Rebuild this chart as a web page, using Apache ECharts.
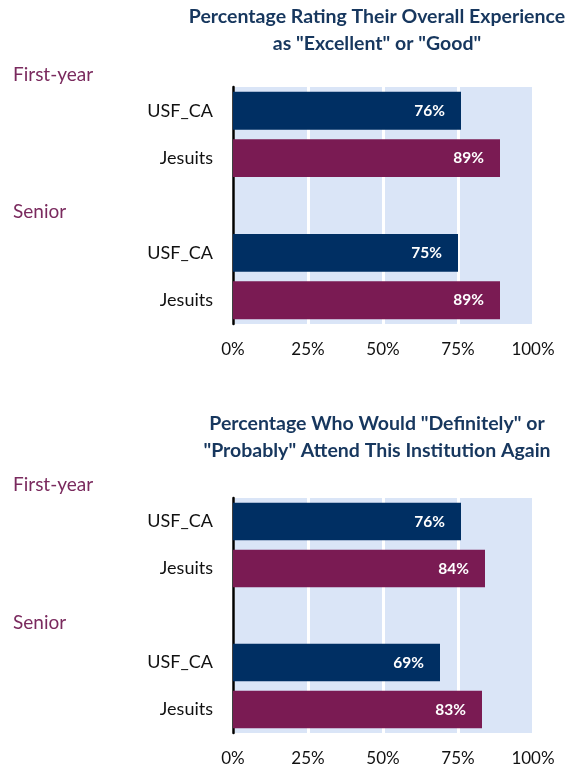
<!DOCTYPE html>
<html>
<head>
<meta charset="utf-8">
<script src="https://cdn.jsdelivr.net/npm/echarts@6/dist/echarts.min.js"></script>
<style>
  html, body { margin: 0; padding: 0; background: #fff; }
  #chart { width: 580px; height: 768px; }
</style>
</head>
<body>
<div id="chart"></div>
<script>
// data
const categories = ['USF_CA', 'Jesuits', '', 'USF_CA', 'Jesuits'];
const groupLabels = ['First-year', 'Senior'];
const topTitle = 'Percentage Rating Their Overall Experience\nas "Excellent" or "Good"';
const bottomTitle = 'Percentage Who Would "Definitely" or\n"Probably" Attend This Institution Again';
const topValues = [76, 89, null, 75, 89];
const bottomValues = [76, 84, null, 69, 83];
const xTicks = [0, 25, 50, 75, 100];

const NAVY = '#002f63';
const PURPLE = '#7a1b53';
const BG = '#dae5f7';
const FONT = 'Lato, "Open Sans", sans-serif';

function barData(vals) {
    return vals.map((v, i) => ({
        value: v,
        itemStyle: { color: categories[i] === 'Jesuits' ? PURPLE : NAVY }
    }));
}

function xAxisCfg(idx) {
    return {
        gridIndex: idx, type: 'value', min: xTicks[0], max: xTicks[xTicks.length - 1], interval: 25,
        axisLine: { show: false }, axisTick: { show: false },
        axisLabel: { formatter: '{value}%', color: '#111', fontSize: 17, fontFamily: FONT, margin: 17 },
        splitLine: { show: true, lineStyle: { color: '#fff', width: 3 } }
    };
}

function yAxisCfg(idx) {
    return {
        gridIndex: idx, type: 'category', data: categories, inverse: true,
        axisLine: { show: true, lineStyle: { color: '#000', width: 2.5 } },
        axisTick: { show: false },
        axisLabel: { color: '#111', fontSize: 18, fontFamily: FONT, margin: 20 }
    };
}

function seriesCfg(idx, vals) {
    return {
        type: 'bar', xAxisIndex: idx, yAxisIndex: idx, data: barData(vals),
        barCategoryGap: '20%',
        label: {
            show: true, position: 'insideRight', distance: 16, formatter: '{c}%',
            color: '#fff', fontWeight: 'bold', fontSize: 15.5, fontFamily: FONT
        }
    };
}

const titleStyle = { color: '#17375e', fontSize: 19.5, fontWeight: 'bold', fontFamily: FONT, lineHeight: 27 };
const groupStyle = { fill: '#7a2a5e', fontSize: 19, fontFamily: FONT };

const chart = echarts.init(document.getElementById('chart'));
chart.setOption({
    animation: false,
    title: [
        { text: topTitle, left: 377, top: 3, padding: 0, textAlign: 'center', textStyle: titleStyle },
        { text: bottomTitle, left: 377, top: 410, padding: 0, textAlign: 'center', textStyle: titleStyle }
    ],
    grid: [
        { left: 233, width: 300, top: 87, height: 237, show: true, backgroundColor: BG, borderWidth: 0 },
        { left: 233, width: 300, top: 498, height: 235, show: true, backgroundColor: BG, borderWidth: 0 }
    ],
    xAxis: [xAxisCfg(0), xAxisCfg(1)],
    yAxis: [yAxisCfg(0), yAxisCfg(1)],
    series: [seriesCfg(0, topValues), seriesCfg(1, bottomValues)],
    graphic: [
        { type: 'text', left: 13, top: 65, style: Object.assign({ text: groupLabels[0] }, groupStyle) },
        { type: 'text', left: 13, top: 202, style: Object.assign({ text: groupLabels[1] }, groupStyle) },
        { type: 'text', left: 13, top: 475, style: Object.assign({ text: groupLabels[0] }, groupStyle) },
        { type: 'text', left: 13, top: 613, style: Object.assign({ text: groupLabels[1] }, groupStyle) }
    ]
});
window.onresize = () => chart.resize();
</script>
</body>
</html>
